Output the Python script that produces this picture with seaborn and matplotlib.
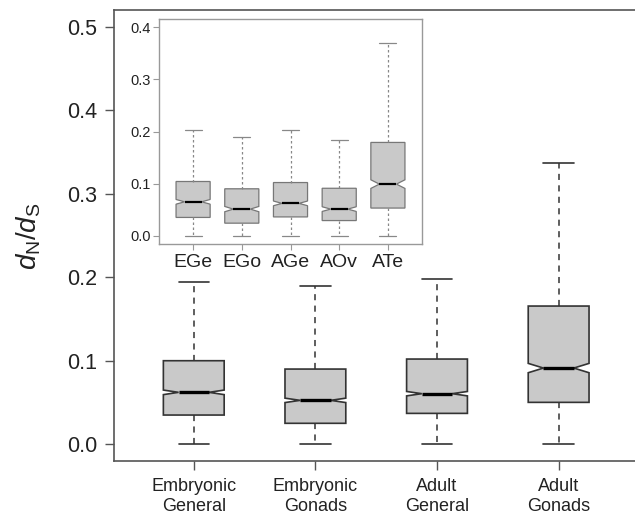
import pandas as pd
import matplotlib
matplotlib.use("Agg")
import matplotlib.pyplot as plt
import seaborn as sns

sns.set_style("white")
plt.rcParams["font.family"] = ["Liberation Sans", "DejaVu Sans"]
plt.rcParams["mathtext.fontset"] = "custom"
plt.rcParams["mathtext.it"] = "Liberation Sans:italic"
plt.rcParams["mathtext.rm"] = "Liberation Sans"

# main panel: five-number summaries
groups = ["Embryonic\nGeneral", "Embryonic\nGonads", "Adult\nGeneral", "Adult\nGonads"]
g_min = [0.0, 0.0, 0.0, 0.0]
g_q1 = [0.0347, 0.0248, 0.0367, 0.0499]
g_med = [0.0619, 0.0523, 0.0603, 0.0910]
g_q3 = [0.0998, 0.0898, 0.1018, 0.1653]
g_max = [0.1940, 0.1888, 0.1976, 0.3365]
g_reps = [280, 300, 300, 210]   # copies per summary value (sets notch height)

# inset panel
tissues = ["EGe", "EGo", "AGe", "AOv", "ATe"]
t_min = [0.0, 0.0, 0.0, 0.0, 0.0]
t_q1 = [0.035, 0.024, 0.036, 0.029, 0.053]
t_med = [0.065, 0.051, 0.062, 0.051, 0.099]
t_q3 = [0.104, 0.090, 0.102, 0.091, 0.179]
t_max = [0.203, 0.189, 0.202, 0.184, 0.369]
t_reps = [116, 83, 106, 94, 114]


def expand(labels, mins, q1s, meds, q3s, maxs, reps):
    rows = []
    for lab, lo, a, m, b, hi, k in zip(labels, mins, q1s, meds, q3s, maxs, reps):
        for v in (lo, a, m, b, hi):
            rows += [(lab, v)] * k
    return pd.DataFrame(rows, columns=["group", "dnds"])


main_df = expand(groups, g_min, g_q1, g_med, g_q3, g_max, g_reps)
ins_df = expand(tissues, t_min, t_q1, t_med, t_q3, t_max, t_reps)

fill = "#c9c9c9"
W, H = 635, 518
fig = plt.figure(figsize=(W / 100, H / 100), dpi=100)

# main axes
ax = fig.add_axes([113.5 / W, 1 - 460.7 / H, (638.9 - 113.5) / W, (460.7 - 10) / H])
sns.boxplot(data=main_df, x="group", y="dnds", order=groups, ax=ax,
            notch=True, whis=(0, 100), width=0.5, showfliers=False,
            color=fill, saturation=1, linecolor="#333333", linewidth=1.2,
            medianprops=dict(color="black", linewidth=2.4),
            whiskerprops=dict(color="#333333", linewidth=1.1, linestyle=(0, (4, 3.5))),
            capprops=dict(color="#333333", linewidth=1.2))
ax.set_xlim(-0.66, 3.66)
ax.set_ylim(-0.02, 0.52)
ax.set_yticks([0.0, 0.1, 0.2, 0.3, 0.4, 0.5])
ax.set_yticklabels(["0.0", "0.1", "0.2", "0.3", "0.4", "0.5"])
ax.set_xlabel("")
ax.set_ylabel("")
for s in ax.spines.values():
    s.set_color("#555555")
    s.set_linewidth(1.2)
ax.tick_params(axis="y", length=6.5, width=1, color="#555555", pad=5,
               labelsize=15.5, labelcolor="#222222", left=True)
ax.tick_params(axis="x", length=6.5, width=1, color="#555555", pad=6,
               labelsize=13, labelcolor="#222222", bottom=True)
fig.text(29 / W, 1 - 236 / H, r"$d_\mathrm{N}/d_\mathrm{S}$", rotation=90,
         ha="center", va="center", fontsize=20, color="#222222")

# inset axes
ins = fig.add_axes([159 / W, 1 - 244 / H, 263 / W, 225 / H])
sns.boxplot(data=ins_df, x="group", y="dnds", order=tissues, ax=ins,
            notch=True, whis=(0, 100), width=0.7, showfliers=False,
            color=fill, saturation=1, linecolor="#777777", linewidth=0.9,
            medianprops=dict(color="black", linewidth=1.6),
            whiskerprops=dict(color="#888888", linewidth=0.9, linestyle=(0, (2, 2))),
            capprops=dict(color="#888888", linewidth=0.9))
ins.set_xlim(-0.7, 4.7)
ins.set_ylim(-0.016, 0.416)
ins.set_yticks([0.0, 0.1, 0.2, 0.3, 0.4])
ins.set_yticklabels(["0.0", "0.1", "0.2", "0.3", "0.4"])
ins.set_xlabel("")
ins.set_ylabel("")
ins.set_facecolor("white")
for s in ins.spines.values():
    s.set_color("#999999")
    s.set_linewidth(1)
ins.tick_params(axis="y", length=4, width=0.8, color="#999999", pad=2,
                labelsize=10.5, labelcolor="#222222", left=True)
ins.tick_params(axis="x", length=4, width=0.8, color="#999999", pad=3,
                labelsize=14, labelcolor="#222222", bottom=True)

fig.savefig("out.png", dpi=100)
